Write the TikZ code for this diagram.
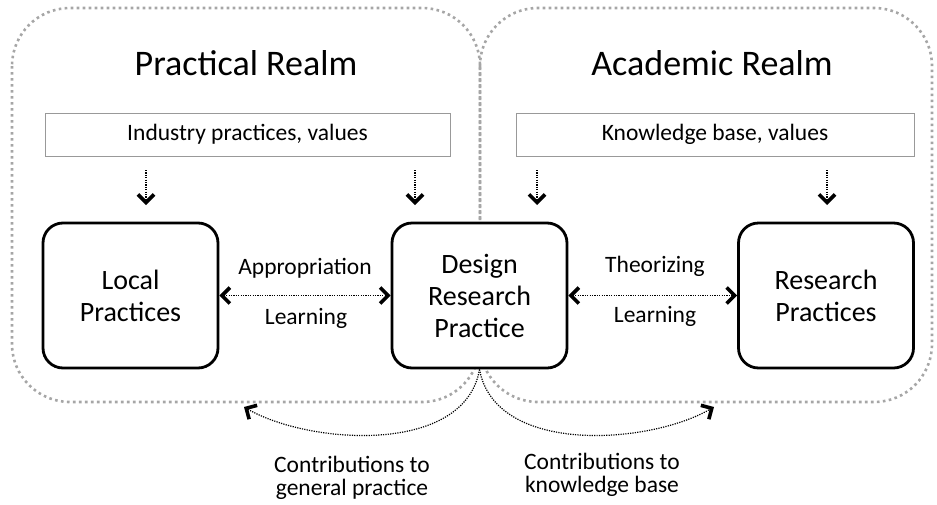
\documentclass[tikz,border=0pt]{standalone}
\usepackage{fontspec}
\setmainfont{Carlito}
\usetikzlibrary{arrows.meta}
\begin{document}
\begin{tikzpicture}[x=1pt,y=-1pt,
  realm/.style={draw=black!35, line width=2.6pt, dash pattern=on 2.6pt off 3.4pt, rounded corners=58pt},
  srcbox/.style={draw=black!40, line width=0.9pt, minimum width=405pt, minimum height=43pt, inner sep=0pt, font=\fontsize{23.5}{26}\selectfont},
  prac/.style={draw=black, line width=2.8pt, rounded corners=20pt, fill=white, minimum width=175pt, minimum height=145pt, inner sep=0pt, align=center, font=\fontsize{28}{32}\selectfont},
  realmtitle/.style={font=\fontsize{36}{40}\selectfont},
  lbl/.style={font=\fontsize{23.5}{23.5}\selectfont, align=center},
  flow/.style={line width=1.2pt, dash pattern=on 1.2pt off 1.2pt},
  >={Straight Barb[length=8pt,width=16pt,line width=3.6pt]},
]
\useasboundingbox (0,0) rectangle (937,504);
% realms
\draw[realm] (12,8) rectangle (480,402);
\draw[realm] (480,8) rectangle (932,402);
\node[realmtitle] (ptitle) at (246,63) {Practical Realm};
\node[realmtitle] (atitle) at (712,63) {Academic Realm};
% source boxes
\node[srcbox] (ind) at (247.5,134.5) {Industry practices, values};
\node[srcbox, minimum width=398pt] (kb) at (715,134.5) {Knowledge base, values};
% practice boxes
\node[prac] (lp) at (130.5,295.5) {Local\\Practices};
\node[prac] (drp) at (479.5,295.5) {Design\\Research\\Practice};
\node[prac] (rp) at (826,295.5) {Research\\Practices};
% down arrows
\coordinate (d1s) at (146,170); \coordinate (d1e) at (146,205);
\coordinate (d2s) at (415,170); \coordinate (d2e) at (415,205);
\coordinate (d3s) at (537,170); \coordinate (d3e) at (537,205);
\coordinate (d4s) at (827,170); \coordinate (d4e) at (827,205);
\draw[flow,->] (d1s) -- (d1e);
\draw[flow,->] (d2s) -- (d2e);
\draw[flow,->] (d3s) -- (d3e);
\draw[flow,->] (d4s) -- (d4e);
% horizontal exchanges
\draw[flow,<->] (lp) -- (drp);
\draw[flow,<->] (drp) -- (rp);
\node[lbl] (app) at (305,268) {Appropriation};
\node[lbl] (lrn1) at (306,318) {Learning};
\node[lbl] (theo) at (655,266) {Theorizing};
\node[lbl] (lrn2) at (655,316) {Learning};
% contributions
\coordinate (gp) at (244,407);
\coordinate (kbt) at (714,407);
\draw[flow,->] (drp.south) .. controls (465,455) and (310,445) .. (gp);
\draw[flow,->] (drp.south) .. controls (495,455) and (648,445) .. (kbt);
\node[lbl] (cgp) at (352,478) {Contributions to\\general practice};
\node[lbl] (ckb) at (602,475) {Contributions to\\knowledge base};
\end{tikzpicture}
\end{document}
